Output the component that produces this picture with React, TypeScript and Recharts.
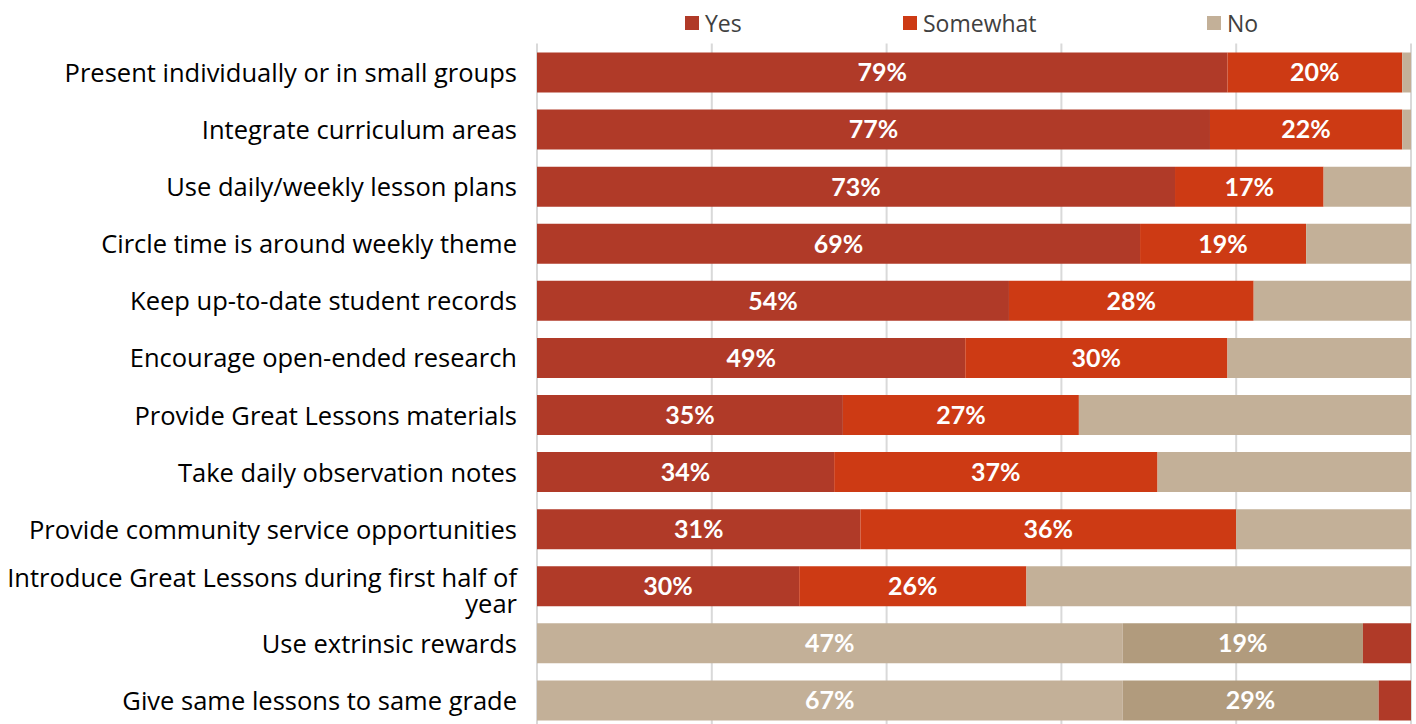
import React from "react";
import { BarChart, Bar, XAxis, YAxis, CartesianGrid, Cell, LabelList, Legend } from "recharts";

const categories = [
  "Present individually or in small groups",
  "Integrate curriculum areas",
  "Use daily/weekly lesson plans",
  "Circle time is around weekly theme",
  "Keep up-to-date student records",
  "Encourage open-ended research",
  "Provide Great Lessons materials",
  "Take daily observation notes",
  "Provide community service opportunities",
  "Introduce Great Lessons during first half of year",
  "Use extrinsic rewards",
  "Give same lessons to same grade",
];

// Segment widths as drawn (left, middle, right)
const firstSegment = [79, 77, 73, 69, 54, 49, 35, 34, 37, 30, 67, 67];
const secondSegment = [20, 22, 17, 19, 28, 30, 27, 37, 43, 26, 27.5, 29.3];
const thirdSegment = [1, 1, 10, 12, 18, 21, 38, 29, 20, 44, 5.5, 3.7];

// Printed labels
const firstLabels = ["79%", "77%", "73%", "69%", "54%", "49%", "35%", "34%", "31%", "30%", "47%", "67%"];
const secondLabels = ["20%", "22%", "17%", "19%", "28%", "30%", "27%", "37%", "36%", "26%", "19%", "29%"];

// Rows drawn in reversed order (No first)
const reversedRows = [false, false, false, false, false, false, false, false, false, false, true, true];

const legendNames = ["Yes", "Somewhat", "No"];
const xTicks = [0, 20, 40, 60, 80, 100];

const YES = "#b03a28";
const SOMEWHAT = "#cd3a14";
const NO = "#c3b098";
const NO_DARK = "#b19b7d";

const normalColors = [YES, SOMEWHAT, NO];
const reversedColors = [NO, NO_DARK, YES];

const data = categories.map((c, i) => ({
  name: c,
  s1: firstSegment[i],
  s2: secondSegment[i],
  s3: thirdSegment[i],
  l1: firstLabels[i],
  l2: secondLabels[i],
  rev: reversedRows[i],
}));

const FONT = "'Open Sans', Lato, sans-serif";
const LABEL_FONT = "Lato, 'Open Sans', sans-serif";

function wrap(text: string, max: number): string[] {
  const words = text.split(" ");
  const lines: string[] = [];
  let cur = "";
  for (const w of words) {
    const next = cur ? cur + " " + w : w;
    if (next.length > max && cur) {
      lines.push(cur);
      cur = w;
    } else cur = next;
  }
  if (cur) lines.push(cur);
  return lines;
}

const CategoryTick = (props: any) => {
  const { x, y, payload } = props;
  const lines = wrap(String(payload.value), 44);
  const lh = 26;
  const start = y - ((lines.length - 1) * lh) / 2 + (lines.length > 1 ? 4 : 0);
  return (
    <text textAnchor="end" fontFamily={FONT} fontSize={25.5} fill="#000">
      {lines.map((l, i) => (
        <tspan key={i} x={x} y={start + i * lh} dominantBaseline="central">
          {l}
        </tspan>
      ))}
    </text>
  );
};

const legendLefts = [685, 903, 1207];

const LegendContent = () => (
  <div style={{ position: "relative", width: 1416, height: 36 }}>
    {legendNames.map((n, i) => (
      <div
        key={n}
        style={{
          position: "absolute",
          left: legendLefts[i],
          top: 5,
          display: "flex",
          alignItems: "center",
          fontFamily: FONT,
          fontSize: 23,
          color: "#404040",
          lineHeight: "20px",
        }}
      >
        <span style={{ display: "inline-block", width: 14, height: 14, background: normalColors[i], marginRight: 6 }} />
        <span>{n}</span>
      </div>
    ))}
  </div>
);

export default function App() {
  return (
    <div style={{ position: "absolute", left: 0, top: 0 }}>
      <BarChart
        width={1416}
        height={740}
        data={data}
        layout="vertical"
        margin={{ top: 7.5, right: 5, bottom: 11.5, left: 0 }}
        barCategoryGap={17}
      >
        <Legend verticalAlign="top" content={<LegendContent />} wrapperStyle={{ left: 0, width: 1416 }} />
        <CartesianGrid horizontal={false} vertical={true} stroke="#d9d9d9" strokeWidth={2} />
        <XAxis type="number" domain={[0, 100]} ticks={xTicks} hide />
        <YAxis
          type="category"
          dataKey="name"
          width={537}
          axisLine={false}
          tickLine={false}
          tickSize={0}
          tickMargin={20}
          tick={<CategoryTick />}
          interval={0}
        />
        <Bar dataKey="s1" stackId="a" barSize={40} isAnimationActive={false}>
          {data.map((d, i) => (
            <Cell key={i} fill={d.rev ? reversedColors[0] : normalColors[0]} />
          ))}
          <LabelList dataKey="l1" position="center" fill="#fff" fontFamily={LABEL_FONT} fontWeight={700} fontSize={25} />
        </Bar>
        <Bar dataKey="s2" stackId="a" barSize={40} isAnimationActive={false}>
          {data.map((d, i) => (
            <Cell key={i} fill={d.rev ? reversedColors[1] : normalColors[1]} />
          ))}
          <LabelList dataKey="l2" position="center" fill="#fff" fontFamily={LABEL_FONT} fontWeight={700} fontSize={25} />
        </Bar>
        <Bar dataKey="s3" stackId="a" barSize={40} isAnimationActive={false}>
          {data.map((d, i) => (
            <Cell key={i} fill={d.rev ? reversedColors[2] : normalColors[2]} />
          ))}
        </Bar>
      </BarChart>
    </div>
  );
}
